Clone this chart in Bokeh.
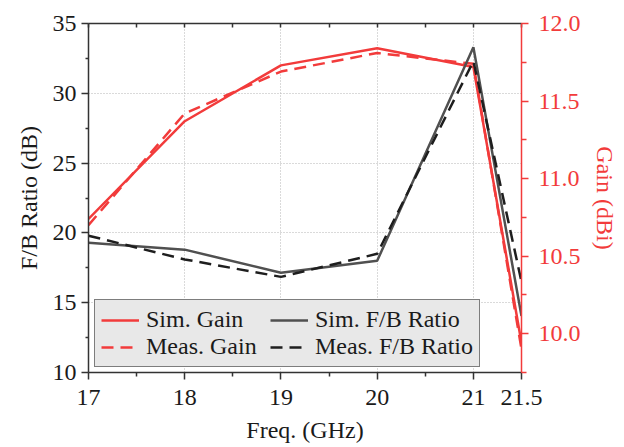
from bokeh.plotting import figure
from bokeh.models import (Range1d, LinearAxis, FixedTicker, Legend, LegendItem,
                          NumeralTickFormatter)
from bokeh.embed import file_html
from bokeh.resources import INLINE

freq = [17, 18, 19, 20, 21, 21.5]
sim_gain = [10.74, 11.37, 11.73, 11.84, 11.72, 9.94]
meas_gain = [10.70, 11.42, 11.69, 11.81, 11.74, 9.90]
sim_fb = [19.3, 18.8, 17.15, 18.0, 33.3, 14.05]
meas_fb = [19.8, 18.1, 16.85, 18.5, 32.3, 16.5]

x_ticks = [17, 18, 19, 20, 21, 21.5]
x_minor = [17.5, 18.5, 19.5, 20.5]
fb_ticks = [10, 15, 20, 25, 30, 35]
fb_minor = [12.5, 17.5, 22.5, 27.5, 32.5]
gain_ticks = [10.0, 10.5, 11.0, 11.5, 12.0]
gain_minor = [9.75, 10.25, 10.75, 11.25, 11.75]

RED = "#f23b3b"
GRAY = "#505050"
DARK = "#1e1e1e"
AX = "#333333"
TXT = "#1a1a1a"
FONT = "Liberation Serif"
FS = "24px"

p = figure(width=624, height=447, output_backend="svg", toolbar_location=None,
           x_range=Range1d(17, 21.5), y_range=Range1d(10, 35),
           min_border_left=88, min_border_right=103, min_border_top=23,
           min_border_bottom=75, x_axis_location=None, y_axis_location=None)
p.extra_y_ranges = {"gain": Range1d(9.75, 12.0)}
p.outline_line_color = None
p.background_fill_color = "white"
p.border_fill_color = "white"

def style_axis(ax, color, txt):
    ax.axis_line_color = color
    ax.axis_line_width = 1.5
    ax.major_tick_line_color = color
    ax.minor_tick_line_color = color
    ax.major_tick_line_width = 1.5
    ax.minor_tick_line_width = 1.5
    ax.major_label_text_font = FONT
    ax.major_label_text_font_size = FS
    ax.major_label_text_color = txt
    ax.axis_label_text_font = FONT
    ax.axis_label_text_font_size = FS
    ax.axis_label_text_font_style = "normal"
    ax.axis_label_text_color = txt

xb = LinearAxis(axis_label="Freq. (GHz)",
                ticker=FixedTicker(ticks=x_ticks, minor_ticks=x_minor))
style_axis(xb, AX, TXT)
xb.major_tick_out = 7; xb.major_tick_in = 0
xb.minor_tick_out = 4; xb.minor_tick_in = 0
xb.major_label_standoff = 10
xb.axis_label_standoff = 9
p.add_layout(xb, "below")

# top frame line with inward ticks only (minor ticks carry no labels)
xt = LinearAxis(ticker=FixedTicker(ticks=[], minor_ticks=x_ticks + x_minor))
style_axis(xt, AX, TXT)
xt.minor_tick_out = 0; xt.minor_tick_in = 4
p.add_layout(xt, "above")

yl = LinearAxis(axis_label="F/B Ratio (dB)",
                ticker=FixedTicker(ticks=fb_ticks, minor_ticks=fb_minor))
style_axis(yl, AX, TXT)
yl.major_tick_out = 7; yl.major_tick_in = 0
yl.minor_tick_out = 3; yl.minor_tick_in = 0
yl.major_label_standoff = 5
yl.axis_label_standoff = 8
p.add_layout(yl, "left")

yr = LinearAxis(y_range_name="gain", axis_label="Gain (dBi)",
                ticker=FixedTicker(ticks=gain_ticks, minor_ticks=gain_minor),
                formatter=NumeralTickFormatter(format="0.0"))
style_axis(yr, RED, RED)
yr.major_tick_out = 7; yr.major_tick_in = 0
yr.minor_tick_out = 5; yr.minor_tick_in = 0
yr.major_label_standoff = 10
yr.axis_label_standoff = 8
p.add_layout(yr, "right")

p.xgrid.ticker = FixedTicker(ticks=[18, 19, 20, 21])
p.ygrid.ticker = FixedTicker(ticks=[15, 20, 25, 30])
for g in (p.xgrid, p.ygrid):
    g.grid_line_color = "#b5b5b5"
    g.grid_line_dash = "1 2"
    g.grid_line_width = 1

r1 = p.line(freq, sim_gain, y_range_name="gain", line_color=RED, line_width=2.5)
r2 = p.line(freq, meas_gain, y_range_name="gain", line_color=RED, line_width=2.5,
            line_dash="12 7")
r3 = p.line(freq, sim_fb, line_color=GRAY, line_width=2.5)
r4 = p.line(freq, meas_fb, line_color=DARK, line_width=2.5, line_dash="12 7")

legend = Legend(items=[LegendItem(label="Sim. Gain", renderers=[r1]),
                       LegendItem(label="Meas. Gain", renderers=[r2]),
                       LegendItem(label="Sim. F/B Ratio", renderers=[r3]),
                       LegendItem(label="Meas. F/B Ratio", renderers=[r4])],
                ncols=2, location=(6, 5))
legend.label_text_font = FONT
legend.label_text_font_size = FS
legend.label_text_color = TXT
legend.background_fill_color = "#e8e8e8"
legend.background_fill_alpha = 1
legend.border_line_color = "#111111"
legend.border_line_width = 1.5
legend.glyph_width = 38
legend.glyph_height = 26
legend.label_height = 26
legend.label_width = 124
legend.spacing = 0
legend.padding = 6
legend.margin = 0
legend.label_standoff = 7
p.add_layout(legend, "center")

open("out.html", "w").write(file_html(p, INLINE))
